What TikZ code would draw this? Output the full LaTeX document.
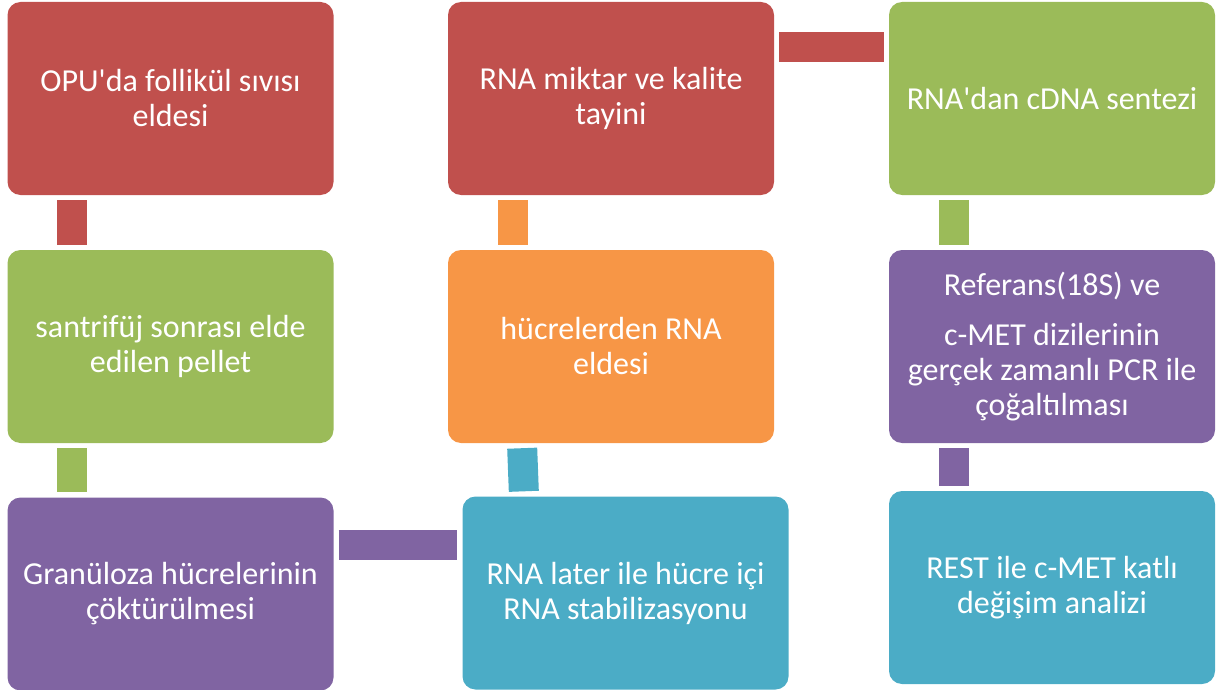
\documentclass[tikz,border=0pt]{standalone}
\usepackage{fontspec}
\setmainfont{Carlito}
\usetikzlibrary{positioning}
\definecolor{accred}{HTML}{C0504D}
\definecolor{accgreen}{HTML}{9BBB59}
\definecolor{accpurple}{HTML}{8064A2}
\definecolor{accblue}{HTML}{4BACC6}
\definecolor{accorange}{HTML}{F79646}

\begin{document}
\begin{tikzpicture}[x=1pt,y=-1pt,
  stepbox/.style={fill=#1,rounded corners=13pt,minimum width=326pt,minimum height=193pt,
    text width=316pt,align=flush center,text=white,inner sep=0pt,
    font=\fontsize{32}{35}\selectfont},
  bar/.style={draw=#1,line width=30pt,shorten <=5pt,shorten >=5pt}
]
\useasboundingbox (0,0) rectangle (1218,690);
\node[stepbox=accred] (opu) at (170.5,98.5) {OPU\textquotesingle da follikül sıvısı\\eldesi};
\node[stepbox=accgreen] (pellet) at (170.5,346.5) {santrifüj sonrası elde\\edilen pellet};
\node[stepbox=accpurple] (granul) at (170.5,594) {Granüloza hücrelerinin\\çöktürülmesi};
\node[stepbox=accblue] (later) at (625.5,593) {RNA later ile hücre içi\\RNA stabilizasyonu};
\node[stepbox=accorange] (rnaeld) at (611,346.5) {hücrelerden RNA\\eldesi};
\node[stepbox=accred] (miktar) at (611,98.5) {RNA miktar ve kalite\\tayini};
\node[stepbox=accgreen] (cdna) at (1052,98.5) {RNA\textquotesingle dan cDNA sentezi};
\node[stepbox=accpurple] (pcr) at (1052,346.5) {Referans(18S) ve\\[15pt]c-MET dizilerinin\\gerçek zamanlı PCR ile\\çoğaltılması};
\node[stepbox=accblue] (rest) at (1052,587.5) {REST ile c-MET katlı\\değişim analizi};

\draw[bar=accred] ([xshift=-98.5pt]opu.south) -- ([xshift=-98.5pt]pellet.north);
\draw[bar=accgreen] ([xshift=-98.5pt]pellet.south) -- ([xshift=-98.5pt]granul.north);
\draw[bar=accpurple] ([yshift=49.5pt]granul.east) -- ([yshift=48.5pt]later.west);
\draw[bar=accblue] ([xshift=-101.5pt]later.north) -- ([xshift=-89pt]rnaeld.south);
\draw[bar=accorange] ([xshift=-98.5pt]rnaeld.north) -- ([xshift=-98.5pt]miktar.south);
\draw[bar=accred] ([yshift=51pt]miktar.east) -- ([yshift=51pt]cdna.west);
\draw[bar=accgreen] ([xshift=-98pt]cdna.south) -- ([xshift=-98pt]pcr.north);
\draw[bar=accpurple] ([xshift=-98pt]pcr.south) -- ([xshift=-98pt]rest.north);
\end{tikzpicture}
\end{document}
